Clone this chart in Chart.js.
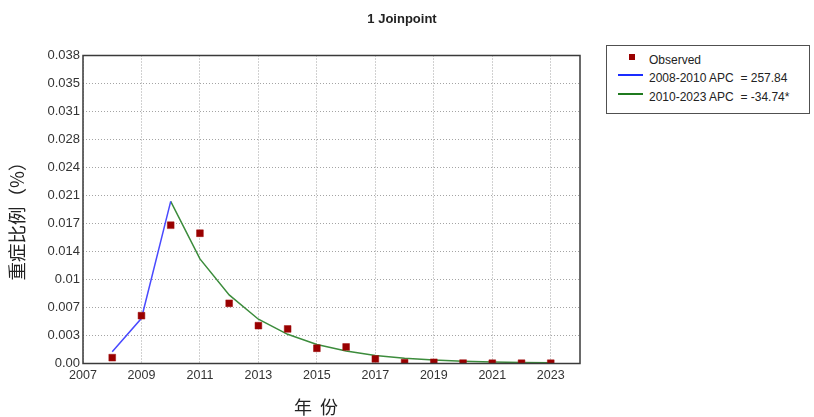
<!DOCTYPE html>
<html>
<head>
<meta charset="utf-8">
<script src="https://cdn.jsdelivr.net/npm/chart.js@4/dist/chart.umd.min.js"></script>
<style>
  html, body { margin: 0; padding: 0; background: #ffffff; }
  #wrap { position: relative; width: 814px; height: 417px; }
  #legend {
    position: absolute; left: 606px; top: 45px; width: 202px; height: 67px;
    border: 1px solid #505050; background: #fff;
    font-family: "Liberation Sans", Arial, sans-serif; font-size: 12px; color: #222;
  }
  .txt { position: absolute; left: 42px; line-height: 14px; white-space: pre; }
  .mk { position: absolute; left: 22px; width: 6px; height: 6px; background: #990000; }
  .ln { position: absolute; left: 11px; width: 25px; height: 2px; }
</style>
</head>
<body>
<div id="wrap">
  <canvas id="c" width="814" height="417"></canvas>
  <div id="legend">
    <div class="mk" style="top:8px"></div>
    <div class="txt" style="top:7px">Observed</div>
    <div class="ln" style="top:28px;background:#1a2cff"></div>
    <div class="txt" style="top:25px">2008-2010 APC  = 257.84</div>
    <div class="ln" style="top:47px;background:#1f7a1f"></div>
    <div class="txt" style="top:44px">2010-2023 APC  = -34.74*</div>
  </div>
</div>
<script>
// ---- data ----
const years = [2008, 2009, 2010, 2011, 2012, 2013, 2014, 2015, 2016, 2017, 2018, 2019, 2020, 2021, 2022, 2023];
const observed = [0.00072, 0.0059, 0.01706, 0.01607, 0.00743, 0.00467, 0.00426, 0.00188, 0.00204, 0.00056, 0.0001, 0.00015, 0.00005, 0.00003, 0.00003, 0.00003];
const seg1Years = [2008, 2009, 2010];
const seg1Fit = [0.00146, 0.00558, 0.0200];
const seg2Years = [2010, 2011, 2012, 2013, 2014, 2015, 2016, 2017, 2018, 2019, 2020, 2021, 2022, 2023];
const seg2Fit = [0.0200, 0.0129, 0.00846, 0.00546, 0.0036, 0.00235, 0.00154, 0.001, 0.00066, 0.00043, 0.00028, 0.00018, 0.00012, 0.00008];
const xTickValues = [2007, 2009, 2011, 2013, 2015, 2017, 2019, 2021, 2023];
const yMax = 0.038;
const yTickLabels = ['0.00', '0.003', '0.007', '0.01', '0.014', '0.017', '0.021', '0.024', '0.028', '0.031', '0.035', '0.038'];
const chartTitle = '1 Joinpoint';
const xTitle = '年 份';
const yTitle = '重症比例（%）';

const toXY = (xs, ys) => xs.map((x, i) => ({ x: x, y: ys[i] }));
const yTickValues = yTickLabels.map((_, i) => i * yMax / (yTickLabels.length - 1));

const textPlugin = {
  id: 'texts',
  afterDraw(chart) {
    const ctx = chart.ctx;
    const a = chart.chartArea;
    ctx.save();
    // plot frame
    ctx.strokeStyle = '#3a3a3a';
    ctx.lineWidth = 1.5;
    ctx.strokeRect(a.left, a.top, a.right - a.left, a.bottom - a.top);
    // title
    ctx.fillStyle = '#222';
    ctx.textAlign = 'center';
    ctx.textBaseline = 'middle';
    ctx.font = 'bold 13px "Liberation Sans", Arial, sans-serif';
    ctx.fillText(chartTitle, 402, 19);
    // x title
    ctx.font = '18px "Noto Sans CJK SC", sans-serif';
    ctx.letterSpacing = '2px';
    ctx.fillText(xTitle, 317, 407);
    ctx.letterSpacing = '0px';
    // y title
    ctx.translate(17, 216.5);
    ctx.rotate(-Math.PI / 2);
    ctx.font = '18.5px "Noto Sans CJK SC", sans-serif';
    ctx.fillText(yTitle, 0, 0);
    ctx.restore();
  }
};

new Chart(document.getElementById('c'), {
  type: 'scatter',
  data: {
    datasets: [
      {
        label: 'Observed',
        data: toXY(years, observed),
        pointStyle: 'rect',
        pointRadius: 4.8,
        pointHoverRadius: 4.8,
        backgroundColor: '#990000',
        borderColor: '#a01010',
        borderWidth: 0.5,
        showLine: false,
        order: 0
      },
      {
        label: '2008-2010 APC = 257.84',
        data: toXY(seg1Years, seg1Fit),
        showLine: true,
        borderColor: '#4a4aff',
        borderWidth: 1.5,
        pointRadius: 0,
        fill: false,
        order: 1
      },
      {
        label: '2010-2023 APC = -34.74*',
        data: toXY(seg2Years, seg2Fit),
        showLine: true,
        borderColor: '#3c8c3c',
        borderWidth: 1.5,
        pointRadius: 0,
        fill: false,
        order: 2
      }
    ]
  },
  options: {
    responsive: false,
    animation: false,
    events: [],
    layout: { padding: { top: 55.5, right: 234, bottom: 0, left: 0 } },
    plugins: {
      legend: { display: false },
      title: { display: false },
      tooltip: { enabled: false }
    },
    scales: {
      x: {
        type: 'linear',
        min: 2007,
        max: 2024,
        afterBuildTicks: s => { s.ticks = xTickValues.map(v => ({ value: v })); },
        afterFit: s => { s.height = 53.5; },
        ticks: {
          color: '#333',
          font: { family: '"Liberation Sans", Arial, sans-serif', size: 12.5 },
          padding: 5,
          maxRotation: 0,
          autoSkip: false,
          callback: v => String(v)
        },
        grid: { color: 'rgba(90,90,90,0.55)', lineWidth: 1, drawTicks: false },
        border: { display: false, dash: [1, 2] }
      },
      y: {
        type: 'linear',
        min: 0,
        max: yMax,
        afterBuildTicks: s => { s.ticks = yTickValues.map(v => ({ value: v })); },
        afterFit: s => { s.width = 83; },
        ticks: {
          color: '#333',
          font: { family: '"Liberation Sans", Arial, sans-serif', size: 13 },
          padding: 3,
          autoSkip: false,
          callback: (v, i) => yTickLabels[i]
        },
        grid: { color: 'rgba(90,90,90,0.55)', lineWidth: 1, drawTicks: false },
        border: { display: false, dash: [1, 2] }
      }
    }
  },
  plugins: [textPlugin]
});
</script>
</body>
</html>
